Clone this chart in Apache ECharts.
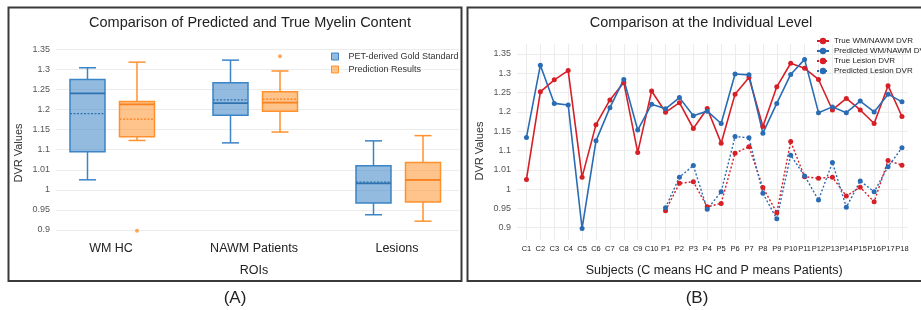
<!DOCTYPE html>
<html>
<head>
<meta charset="utf-8">
<script src="https://cdn.jsdelivr.net/npm/echarts@6/dist/echarts.min.js"></script>
<style>
  html, body { margin: 0; padding: 0; background: #fff; }
  #main { width: 921px; height: 310px; }
</style>
</head>
<body>
<div id="main"></div>
<script>
// ---- panel A: box plots per ROI ----
const roiNames = ['WM HC', 'NAWM Patients', 'Lesions']
// each box: [min, Q1, median, Q3, max, mean]
const goldBoxes = [
  [1.025, 1.095, 1.240, 1.275, 1.304, 1.190],
  [1.117, 1.186, 1.216, 1.267, 1.323, 1.224],
  [0.938, 0.967, 1.016, 1.060, 1.122, 1.019]
]
const predBoxes = [
  [1.123, 1.132, 1.213, 1.220, 1.318, 1.176],
  [1.144, 1.196, 1.217, 1.244, 1.296, 1.226],
  [0.922, 0.970, 1.025, 1.068, 1.135, 1.025]
]
const predOutliers = [[0, 0.898], [1, 1.333]]
const yTickLabels = ['0.9', '0.95', '1', '1.01', '1.1', '1.15', '1.2', '1.25', '1.3', '1.35']

// ---- panel B: individual subjects ----
const subjects = ['C1', 'C2', 'C3', 'C4', 'C5', 'C6', 'C7', 'C8', 'C9', 'C10',
  'P1', 'P2', 'P3', 'P4', 'P5', 'P6', 'P7', 'P8', 'P9', 'P10',
  'P11', 'P12', 'P13', 'P14', 'P15', 'P16', 'P17', 'P18']
const trueWM = [1.025, 1.252, 1.283, 1.307, 1.031, 1.167, 1.231, 1.276, 1.095, 1.254,
  1.199, 1.224, 1.157, 1.209, 1.119, 1.246, 1.289, 1.162, 1.265, 1.326,
  1.313, 1.284, 1.205, 1.235, 1.205, 1.170, 1.268, 1.188]
const predWM = [1.134, 1.321, 1.222, 1.218, 0.898, 1.125, 1.211, 1.284, 1.153, 1.220,
  1.208, 1.237, 1.190, 1.202, 1.170, 1.298, 1.296, 1.145, 1.222, 1.297,
  1.336, 1.198, 1.213, 1.198, 1.228, 1.200, 1.246, 1.226]
const trueLesion = [null, null, null, null, null, null, null, null, null, null,
  0.944, 1.015, 1.019, 0.954, 0.963, 1.093, 1.110, 1.004, 0.939, 1.123,
  1.032, 1.028, 1.031, 0.982, 1.005, 0.967, 1.074, 1.062]
const predLesion = [null, null, null, null, null, null, null, null, null, null,
  0.952, 1.031, 1.061, 0.948, 0.993, 1.136, 1.133, 0.989, 0.923, 1.088,
  1.034, 0.972, 1.069, 0.953, 1.021, 0.993, 1.058, 1.107]

const FONT = '"Liberation Sans", Arial, sans-serif'
const BLUE_BOX = '#3b84c6'
const ORANGE_BOX = '#ff922e'
const RED = '#d61f26'
const BLUE = '#2a6cb4'
const GRID_LINE = '#ececec'

// panel B data grid is taller than the tick range, keep the same scale
const bTop = 54, bH = 173.7, extTop = 10, extBot = 12.3
const perPx = 0.45 / bH

function tickFmt(v) {
  return yTickLabels[Math.round((v - 0.9) / 0.05)]
}

function boxRenderer(offset, stroke, fill, dark) {
  return function (params, api) {
    const idx = api.value(0)
    const pt = v => api.coord([idx, v])
    const x = pt(api.value(1))[0] + offset
    const lo = pt(api.value(1))[1]
    const q1 = pt(api.value(2))[1]
    const med = pt(api.value(3))[1]
    const q3 = pt(api.value(4))[1]
    const hi = pt(api.value(5))[1]
    const mean = pt(api.value(6))[1]
    const hw = 17.5, cw = 8.5
    const ls = { stroke: stroke, lineWidth: 1.5 }
    return {
      type: 'group',
      children: [
        { type: 'line', shape: { x1: x, y1: hi, x2: x, y2: q3 }, style: ls },
        { type: 'line', shape: { x1: x, y1: q1, x2: x, y2: lo }, style: ls },
        { type: 'line', shape: { x1: x - cw, y1: hi, x2: x + cw, y2: hi }, style: ls },
        { type: 'line', shape: { x1: x - cw, y1: lo, x2: x + cw, y2: lo }, style: ls },
        { type: 'rect', shape: { x: x - hw, y: q3, width: hw * 2, height: q1 - q3 }, style: { fill: fill, stroke: stroke, lineWidth: 1.5 } },
        { type: 'line', shape: { x1: x - hw, y1: med, x2: x + hw, y2: med }, style: { stroke: dark, lineWidth: 1.8 } },
        { type: 'line', shape: { x1: x - hw, y1: mean, x2: x + hw, y2: mean }, style: { stroke: dark, lineWidth: 1.2, lineDash: [2, 1.5] } }
      ]
    }
  }
}

const chart = echarts.init(document.getElementById('main'))

chart.setOption({
  animation: false,
  textStyle: { fontFamily: FONT },
  grid: [
    { left: 56, top: 49.3, width: 403, height: 180.7 },
    { left: 39.5, top: 49.3, width: 429, height: 180.7 },
    { left: 517, top: bTop, width: 391, height: bH },
    { left: 519.5, top: bTop - extTop, width: 389.4, height: bH + extTop + extBot }
  ],
  xAxis: [
    { gridIndex: 0, type: 'value', show: false, min: 0, max: 1 },
    {
      gridIndex: 1, type: 'category', data: roiNames,
      axisLine: { show: false }, axisTick: { show: false },
      axisLabel: { fontSize: 12.5, color: '#222', margin: 12 },
      name: 'ROIs', nameLocation: 'middle', nameGap: 34,
      nameTextStyle: { fontSize: 12.5, color: '#222' }
    },
    { gridIndex: 2, type: 'value', show: false, min: 0, max: 1 },
    {
      gridIndex: 3, type: 'category', data: subjects, boundaryGap: true,
      axisLine: { show: false }, axisTick: { show: false },
      axisLabel: { fontSize: 7.5, color: '#222', margin: 5, interval: 0 },
      splitLine: { show: true, alignWithLabel: true, lineStyle: { color: GRID_LINE } },
      name: 'Subjects (C means HC and P means Patients)', nameLocation: 'middle', nameGap: 24,
      nameTextStyle: { fontSize: 12.5, color: '#222' }
    }
  ],
  yAxis: [
    {
      gridIndex: 0, type: 'value', min: 0.9, max: 1.35, interval: 0.05,
      axisLine: { show: false }, axisTick: { show: false },
      axisLabel: { fontSize: 9, color: '#555', margin: 6, formatter: tickFmt },
      splitLine: { lineStyle: { color: GRID_LINE } }
    },
    { gridIndex: 1, type: 'value', min: 0.9, max: 1.35, show: false },
    {
      gridIndex: 2, type: 'value', min: 0.9, max: 1.35, interval: 0.05,
      axisLine: { show: false }, axisTick: { show: false },
      axisLabel: { fontSize: 9, color: '#555', margin: 6, formatter: tickFmt },
      splitLine: { lineStyle: { color: GRID_LINE } }
    },
    { gridIndex: 3, type: 'value', min: 0.9 - extBot * perPx, max: 1.35 + extTop * perPx, show: false }
  ],
  legend: [
    {
      data: [
        { name: 'PET-derived Gold Standard', icon: 'rect', itemStyle: { color: 'rgba(59,132,198,0.55)', borderColor: BLUE_BOX, borderWidth: 1 } },
        { name: 'Prediction Results', icon: 'rect', itemStyle: { color: 'rgba(255,146,46,0.55)', borderColor: ORANGE_BOX, borderWidth: 1 } }
      ],
      orient: 'vertical', left: 326, top: 47,
      itemWidth: 7, itemHeight: 7, itemGap: 4,
      textStyle: { fontSize: 9, color: '#333', lineHeight: 7, padding: [0, 0, 0, 5] }
    },
    {
      data: ['True WM/NAWM DVR', 'Predicted WM/NAWM DVR', 'True Lesion DVR', 'Predicted Lesion DVR'],
      orient: 'vertical', left: 811, top: 31,
      itemWidth: 12, itemHeight: 8, itemGap: 0,
      textStyle: { fontSize: 8, color: '#222', lineHeight: 10 }
    }
  ],
  graphic: [
    { type: 'rect', shape: { x: 8.5, y: 7.5, width: 453, height: 273.5 }, style: { fill: 'none', stroke: '#3a3a3a', lineWidth: 2 } },
    { type: 'rect', shape: { x: 467.5, y: 7.5, width: 460, height: 273.5 }, style: { fill: 'none', stroke: '#3a3a3a', lineWidth: 2 } },
    { type: 'text', x: 250, y: 23, style: { text: 'Comparison of Predicted and True Myelin Content', textAlign: 'center', textVerticalAlign: 'middle', fontSize: 14.5, fontFamily: FONT, fill: '#222' } },
    { type: 'text', x: 701, y: 23, style: { text: 'Comparison at the Individual Level', textAlign: 'center', textVerticalAlign: 'middle', fontSize: 14.5, fontFamily: FONT, fill: '#222' } },
    { type: 'text', x: 19, y: 153, rotation: Math.PI / 2, style: { text: 'DVR Values', textAlign: 'center', textVerticalAlign: 'middle', fontSize: 11, fontFamily: FONT, fill: '#333' } },
    { type: 'text', x: 479.5, y: 151, rotation: Math.PI / 2, style: { text: 'DVR Values', textAlign: 'center', textVerticalAlign: 'middle', fontSize: 11, fontFamily: FONT, fill: '#333' } },
    { type: 'text', x: 235, y: 298, style: { text: '(A)', textAlign: 'center', textVerticalAlign: 'middle', fontSize: 17, fontFamily: FONT, fill: '#222' } },
    { type: 'text', x: 697, y: 298, style: { text: '(B)', textAlign: 'center', textVerticalAlign: 'middle', fontSize: 17, fontFamily: FONT, fill: '#222' } }
  ],
  series: [
    {
      name: 'PET-derived Gold Standard', type: 'custom', xAxisIndex: 1, yAxisIndex: 1,
      data: goldBoxes.map((b, i) => [i].concat(b)),
      encode: { x: 0, y: [1, 2, 3, 4, 5, 6] },
      renderItem: boxRenderer(-23.5, BLUE_BOX, 'rgba(59,132,198,0.55)', '#2f72b0'),
      itemStyle: { color: BLUE_BOX }
    },
    {
      name: 'Prediction Results', type: 'custom', xAxisIndex: 1, yAxisIndex: 1,
      data: predBoxes.map((b, i) => [i].concat(b)),
      encode: { x: 0, y: [1, 2, 3, 4, 5, 6] },
      renderItem: boxRenderer(26, ORANGE_BOX, 'rgba(255,146,46,0.55)', '#f7801f'),
      itemStyle: { color: ORANGE_BOX }
    },
    {
      name: 'outliers', type: 'scatter', xAxisIndex: 1, yAxisIndex: 1,
      data: predOutliers, symbolSize: 4, symbolOffset: [26, 0], clip: false,
      itemStyle: { color: ORANGE_BOX }
    },
    {
      name: 'True WM/NAWM DVR', type: 'line', xAxisIndex: 3, yAxisIndex: 3,
      data: trueWM, symbol: 'circle', symbolSize: 5,
      lineStyle: { color: RED, width: 1.6 }, itemStyle: { color: RED }
    },
    {
      name: 'Predicted WM/NAWM DVR', type: 'line', xAxisIndex: 3, yAxisIndex: 3,
      data: predWM, symbol: 'circle', symbolSize: 5,
      lineStyle: { color: BLUE, width: 1.6 }, itemStyle: { color: BLUE }
    },
    {
      name: 'True Lesion DVR', type: 'line', xAxisIndex: 3, yAxisIndex: 3,
      data: trueLesion, symbol: 'circle', symbolSize: 5,
      lineStyle: { color: RED, width: 1.4, type: [2, 2] }, itemStyle: { color: RED }
    },
    {
      name: 'Predicted Lesion DVR', type: 'line', xAxisIndex: 3, yAxisIndex: 3,
      data: predLesion, symbol: 'circle', symbolSize: 5,
      lineStyle: { color: BLUE, width: 1.4, type: [2, 2] }, itemStyle: { color: BLUE }
    }
  ]
})
</script>
</body>
</html>
